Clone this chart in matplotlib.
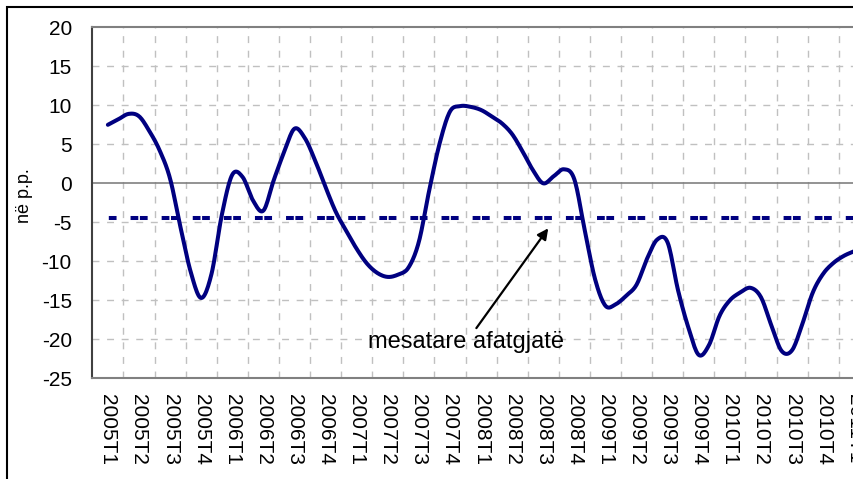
import numpy as np
import matplotlib.pyplot as plt
from matplotlib.patches import Rectangle

plt.rcParams['font.family'] = ['Liberation Sans', 'DejaVu Sans']
plt.rcParams['lines.scale_dashes'] = False
plt.rcParams['axes.unicode_minus'] = False

# quarterly categories on the x axis
quarters = [f'{y}T{q}' for y in range(2005, 2011) for q in range(1, 5)] + ['2011T1']

# monthly readings (three per quarter, starting at 2005T1)
gap = [7.5, 8.2, 8.9, 8.6, 6.7, 4.2, 0.6, -5.6, -11.4, -14.7,
       -11.6, -4.0, 1.1, 0.8, -2.2, -3.5, 0.4, 4.0, 7.0, 5.8,
       2.9, -0.5, -3.7, -6.1, -8.4, -10.3, -11.5, -12.0, -11.7, -10.8,
       -7.5, -0.9, 5.1, 9.2, 9.9, 9.8, 9.4, 8.6, 7.7, 6.3,
       4.1, 1.7, 0.0, 0.9, 1.8, 0.5, -6.0, -12.3, -15.7, -15.5,
       -14.4, -13.0, -9.7, -7.2, -7.6, -13.7, -18.5, -22.0, -20.7, -17.0,
       -15.0, -14.0, -13.4, -14.6, -18.2, -21.5, -21.4, -18.0, -14.0, -11.6,
       -10.2, -9.3, -8.7]
long_run_mean = -4.4


def smooth(x, y, n=12):
    # Catmull-Rom curve through the points, like a spreadsheet smoothed line
    x = np.asarray(x, float)
    y = np.asarray(y, float)
    xp = np.concatenate([[2 * x[0] - x[1]], x, [2 * x[-1] - x[-2]]])
    yp = np.concatenate([[2 * y[0] - y[1]], y, [2 * y[-1] - y[-2]]])
    t = np.linspace(0, 1, n, endpoint=False)
    ox, oy = [], []
    for i in range(len(x) - 1):
        for p, o in ((xp, ox), (yp, oy)):
            p0, p1, p2, p3 = p[i:i + 4]
            o.extend(0.5 * (2 * p1 + (p2 - p0) * t
                            + (2 * p0 - 5 * p1 + 4 * p2 - p3) * t ** 2
                            + (3 * p1 - p0 - 3 * p2 + p3) * t ** 3))
    ox.append(x[-1])
    oy.append(y[-1])
    return np.array(ox), np.array(oy)


fig = plt.figure(figsize=(8.54, 4.79), dpi=100)
ax = fig.add_axes([0.1081, 0.2102, 0.9104, 0.7328])

n = len(quarters)
ax.set_xlim(-0.5, n - 0.5)
ax.set_ylim(-25, 20)

grid = dict(color='#c0c0c0', lw=1.0, ls=(0, (5, 5.5)), zorder=1)
for k in range(n - 1):
    ax.axvline(k + 0.5, **grid)
for v in range(-20, 20, 5):
    if v != 0:
        ax.axhline(v, **grid)
ax.axhline(0, color='#808080', lw=1.2, zorder=2)

months = np.arange(len(gap)) / 3
sx, sy = smooth(months, gap)
ax.plot(sx, sy, color='#000080', lw=2.9, solid_capstyle='round', zorder=4)

ax.plot([0, n - 1], [long_run_mean, long_run_mean], color='#000080', lw=2.9,
        ls=(6.15, (5.58, 1.15, 5.58, 10.08)), dash_capstyle='butt', zorder=3)

ax.annotate('mesatare afatgjatë', xy=(14.16, -5.77), xytext=(11.53, -21.1),
            ha='center', va='baseline', fontsize=17,
            arrowprops=dict(arrowstyle='-|>', color='black', lw=1.6,
                            mutation_scale=16, shrinkA=0, shrinkB=0),
            zorder=5)

ax.set_xticks(range(n))
ax.set_xticklabels(quarters, rotation=-90, fontsize=15)
ax.set_yticks(range(-25, 25, 5))
ax.tick_params(axis='x', length=0, pad=11.3)
ax.tick_params(axis='y', length=0, pad=14.8, labelsize=15)

ax.spines['left'].set_color('#404040')
ax.spines['left'].set_linewidth(1.5)
for s in ('top', 'bottom', 'right'):
    ax.spines[s].set_color('#808080')
    ax.spines[s].set_linewidth(1.5)

fig.text(25 / 854, 1 - 196 / 479, 'në p.p.', rotation=90, ha='center',
         va='center', fontsize=13)

fig.patches.append(Rectangle((7 / 854, -0.1), 2, 1 - 7 / 479 + 0.1,
                             transform=fig.transFigure, fill=False,
                             ec='black', lw=1.5))

fig.savefig('out.png', dpi=100)
plt.close()
